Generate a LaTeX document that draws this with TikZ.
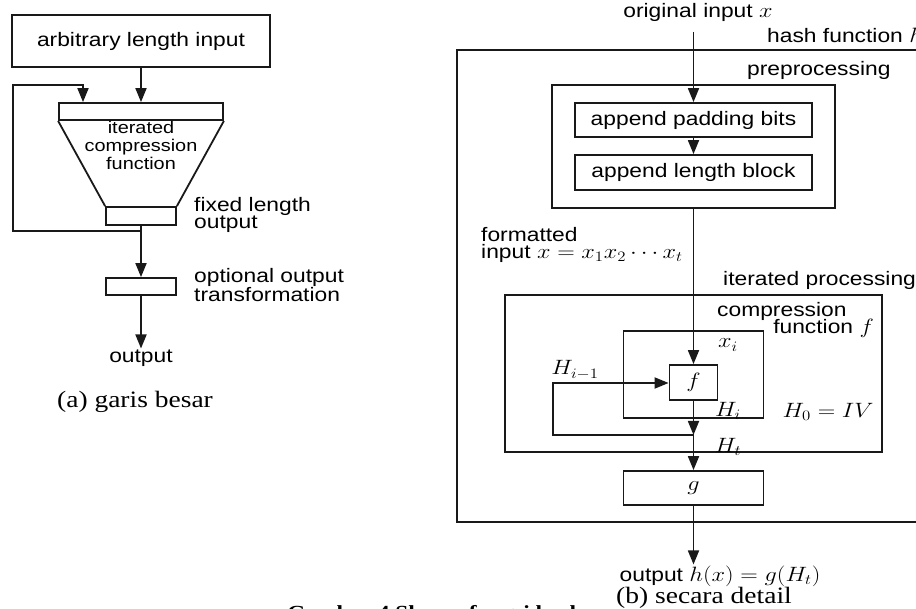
\documentclass[tikz,border=0pt]{standalone}
\usepackage{graphicx}
\usepackage[no-math]{fontspec}
\setmainfont{Liberation Sans}[FakeStretch=1.17]
\newfontfamily\serifc{Liberation Serif}[FakeStretch=1.17]
\usetikzlibrary{arrows.meta}
\newcommand\mx[1]{\scalebox{1.17}[1]{$#1$}}
\newcommand\fs{\fontsize{19.5}{16.5}\selectfont}
\newcommand\fcap{\fontsize{23.5}{26}\serifc}
\begin{document}
\begin{tikzpicture}[x=1pt,y=-1pt,
  ln/.style={line width=1.8pt, draw=black!90},
  box/.style={draw=black!90, line width=1.8pt, inner sep=0pt, font=\fs},
  lbl/.style={inner sep=1pt, font=\fs},
  captext/.style={inner sep=1pt, font=\fcap},
  arr/.style={line width=1.8pt, draw=black!90, -{Triangle[length=14pt,width=11pt]}}]
\useasboundingbox (0,0) rectangle (916,609);
\clip (0,0) rectangle (916,609);

% ---------------- (a) ----------------
\node[box, minimum width=258pt, minimum height=52pt] (arb) at (141,41) {arbitrary length input};
\node[box, minimum width=164pt, minimum height=17pt] (ftop) at (141,111.5) {};
\node[box, minimum width=70pt, minimum height=18pt] (fout) at (141,216) {};
\draw[ln] (ftop.south west) -- (fout.north west);
\draw[ln] (ftop.south east) -- (fout.north east);
\node[lbl, font=\fontsize{17}{18}\selectfont, align=center] (icf) at (141,145) {iterated\\compression\\function};
\draw[arr] (arb.south) -- (ftop.north);
\coordinate (lj) at (141,231);
\coordinate (la) at (13,231);
\coordinate (lb) at (13,85);
\coordinate (lc) at (83,85);
\draw[arr] (fout.south) -- (lj) -- (la) -- (lb) -- (lc) -- (lc |- ftop.north);
\node[box, minimum width=70pt, minimum height=17pt] (opt) at (141,286.5) {};
\draw[arr] (fout.south) -- (opt.north);
\node[lbl] (outl) at (141,358) {output};
\draw[arr] (opt.south) -- (outl.north);
\node[lbl, anchor=west, align=left] (fix) at (193,215) {fixed length\\output};
\node[lbl, anchor=west, align=left] (optl) at (193,285) {optional output\\transformation};
\node[captext] (capa) at (135,402) {(a) garis besar};

% ---------------- (b) ----------------
\node[lbl] (orig) at (698,12) {original input \mx{x}};
\node[box, minimum width=473pt, minimum height=472pt] (hash) at (693.5,286) {};
\node[lbl, anchor=west] (hashl) at (766,35) {hash function \mx{h}};
\node[lbl, anchor=west] (prepl) at (746,70) {preprocessing};
\node[box, minimum width=283pt, minimum height=123pt] (prep) at (693.5,146.5) {};
\node[box, minimum width=237pt, minimum height=34pt] (pad) at (693.5,120) {append padding bits};
\node[box, minimum width=237pt, minimum height=35pt] (len) at (693.5,172.5) {append length block};
\coordinate (itop) at (693.5,32);
\draw[arr] (itop) -- (pad.north);
\draw[arr] (pad.south) -- (len.north);
\node[lbl, anchor=west, align=left] (fmt) at (480,245) {formatted\\input \mx{x=x_1x_2\cdots x_t}};
\node[lbl, anchor=west] (iterl) at (722,280) {iterated processing};
\node[box, minimum width=377pt, minimum height=157pt] (iter) at (693.5,373.5) {};
\node[lbl, anchor=west] (comp1) at (716,311) {compression};
\node[lbl, anchor=east] (comp2) at (875,328) {function \mx{f}};
\node[box, minimum width=140pt, minimum height=87pt] (cf) at (693.5,374.5) {};
\node[box, minimum width=48pt, minimum height=35pt] (f) at (693.5,382.5) {\mx{f}};
\draw[arr] (prep.south) -- (f.north);
\coordinate (hj) at (693.5,435);
\coordinate (ha) at (553,435);
\coordinate (hb) at (553,383);
\draw[arr] (f.south) -- (hj);
\draw[arr] (hj) -- (ha) -- (hb) -- (hb -| f.west);
\node[lbl] (xi) at (728,345) {\mx{x_i}};
\node[lbl] (him) at (575,370) {\mx{H_{i-1}}};
\node[lbl] (hi) at (728,411) {\mx{H_i}};
\node[lbl] (h0) at (828,412) {\mx{H_0=IV}};
\node[lbl] (ht) at (728,447) {\mx{H_t}};
\node[box, minimum width=140pt, minimum height=34pt] (g) at (693.5,488) {\mx{g}};
\draw[arr] (hj) -- (g.north);
\node[lbl] (outr) at (720,576) {output \mx{h(x)=g(H_t)}};
\draw[arr] (g.south) -- (g.south |- outr.north);
\node[captext, anchor=west] (capb) at (615,598) {(b) secara detail};
\node[inner sep=0pt, anchor=base, font=\fontsize{20}{22}\serifc\bfseries] (capfig) at (435,619) {Gambar 4 Skema fungsi hash};
\end{tikzpicture}
\end{document}
